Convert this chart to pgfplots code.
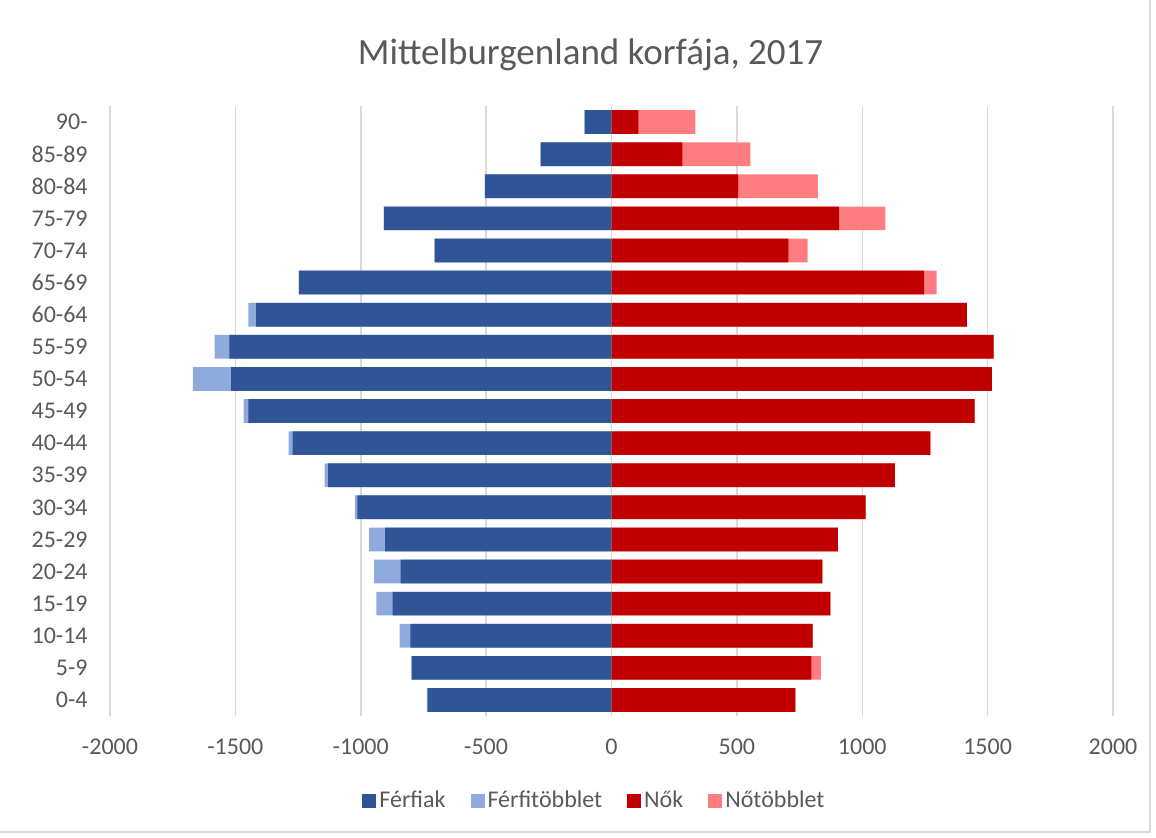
\documentclass[border=0pt]{standalone}
\usepackage{fontspec}
\setmainfont{Carlito}
\usepackage{pgfplots}
\usepackage{pgfplotstable}
\pgfplotsset{compat=1.18}
\definecolor{ferfi}{HTML}{2F5597}
\definecolor{ferfitobb}{HTML}{8FAADC}
\definecolor{no}{HTML}{C00000}
\definecolor{notobb}{HTML}{FF7C80}
\definecolor{txt}{HTML}{595959}
\definecolor{gridc}{HTML}{D9D9D9}

% d = common part, me = male surplus, fe = female surplus
\pgfplotstableread{
idx d    me  fe
0   733  3   0
1   797  0   38
2   802  43  0
3   873  65  0
4   841  106 0
5   903  64  0
6   1013 10  0
7   1130 14  0
8   1272 16  0
9   1448 19  0
10  1517 152 0
11  1524 59  0
12  1417 31  0
13  1247 0   50
14  705  0   77
15  908  0   184
16  505  0   318
17  283  0   271
18  107  0   227
}\korfa

\begin{document}
\begin{tikzpicture}
\path[use as bounding box] (0,0) rectangle (578pt,418.5pt);
\draw[gridc, line width=0.75pt] (0,2.5pt) -- (575pt,2.5pt) -- (575pt,418.5pt);
\node[anchor=base, text=txt, font=\fontsize{18.5}{22}\selectfont]
  at (295.3pt,386.3pt) {Mittelburgenland korfája, 2017};
\begin{axis}[
  at={(55pt,60.5pt)}, anchor=south west,
  scale only axis, width=501.5pt, height=305pt,
  xmin=-2000, xmax=2000, ymin=-0.5, ymax=18.5,
  xtick={-2000,-1500,...,2000},
  ytick={0,...,18},
  yticklabels={0-4,5-9,10-14,15-19,20-24,25-29,30-34,35-39,40-44,45-49,
               50-54,55-59,60-64,65-69,70-74,75-79,80-84,85-89,90-},
  xmajorgrids, grid style={gridc, line width=0.75pt},
  axis line style={draw=none},
  major tick length=0pt,
  tick label style={font=\fontsize{12}{14}\selectfont, text=txt},
  x tick label style={inner sep=0pt, yshift=-11.5pt},
  y tick label style={inner sep=0pt, xshift=-11pt},
  /pgf/number format/assume math mode=true,
  /pgf/number format/1000 sep={},
  legend image code/.code={\fill[#1] (0pt,-3.5pt) rectangle (7pt,3.5pt);},
  legend style={at={(0.4835,-0.1393)}, anchor=center, draw=none, fill=none,
    legend columns=4, font=\fontsize{12}{14}\selectfont, text=txt,
    /tikz/every even column/.append style={column sep=11pt},
    inner sep=0pt, nodes={inner sep=1.5pt}},
]
\addplot[xbar, bar shift=0pt, bar width=11.85pt, fill=ferfitobb, draw=none, forget plot]
  table[x expr=-\thisrow{d}-\thisrow{me}, y=idx]{\korfa};
\addplot[xbar, bar shift=0pt, bar width=11.85pt, fill=ferfi, draw=none, forget plot]
  table[x expr=-\thisrow{d}, y=idx]{\korfa};
\addplot[xbar, bar shift=0pt, bar width=11.85pt, fill=notobb, draw=none, forget plot]
  table[x expr=\thisrow{d}+\thisrow{fe}, y=idx]{\korfa};
\addplot[xbar, bar shift=0pt, bar width=11.85pt, fill=no, draw=none, forget plot]
  table[x=d, y=idx]{\korfa};

\addlegendimage{fill=ferfi, draw=none}
\addlegendentry{Férfiak}
\addlegendimage{fill=ferfitobb, draw=none}
\addlegendentry{Férfitöbblet}
\addlegendimage{fill=no, draw=none}
\addlegendentry{Nők}
\addlegendimage{fill=notobb, draw=none}
\addlegendentry{Nőtöbblet}
\end{axis}
\end{tikzpicture}
\end{document}
